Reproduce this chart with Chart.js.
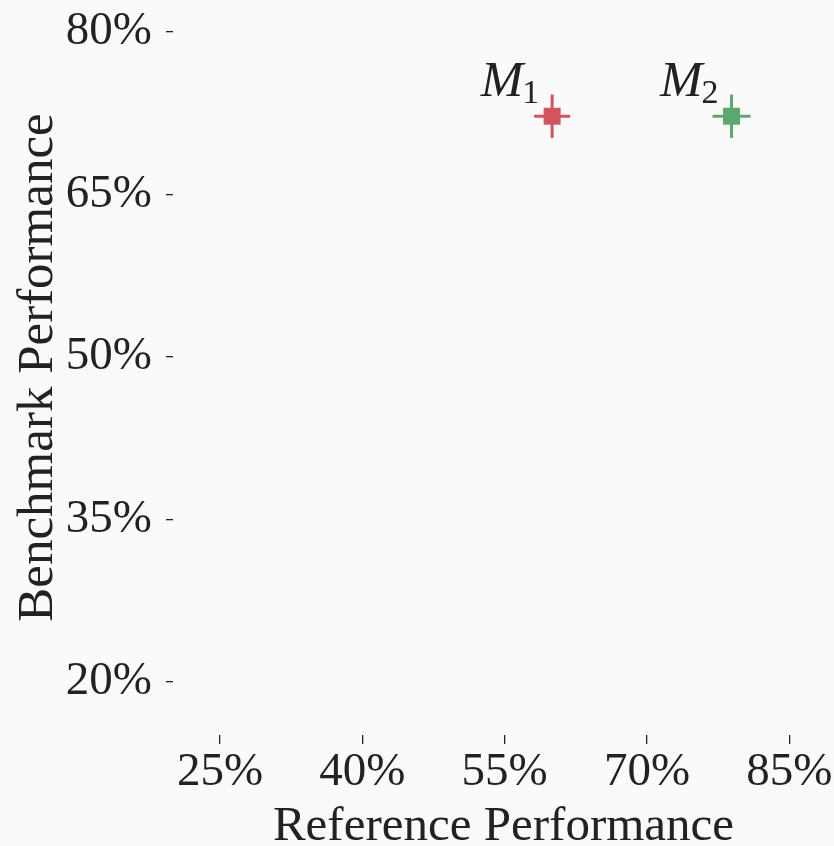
<!DOCTYPE html>
<html>
<head>
<meta charset="utf-8">
<script src="https://cdn.jsdelivr.net/npm/chart.js@4.4.1/dist/chart.umd.min.js"></script>
<style>
  html, body { margin: 0; padding: 0; background: #fafafa; }
  #wrap { width: 834px; height: 846px; position: relative; }
</style>
</head>
<body>
<div id="wrap"><canvas id="myChart"></canvas></div>
<script>
// data (percent)
const modelNames = ['M', 'M'];
const modelSubs = ['1', '2'];
const refPerf = [60.0, 78.9];
const benchPerf = [72.2, 72.2];
const refErr = [1.9, 2.0];
const benchErr = [2.0, 2.0];
const modelColors = ['#d2555d', '#5aa86b'];
const xTicks = [25, 40, 55, 70, 85];
const yTicks = [20, 35, 50, 65, 80];

const FONT = '"Liberation Serif", "DejaVu Serif", serif';
const TEXT = '#222';

// squares first so they are drawn on top of the error bars
const datasets = [{
    label: 'models',
    data: refPerf.map((x, i) => ({x: x, y: benchPerf[i]})),
    pointStyle: 'rect',
    pointRadius: 12,
    pointBackgroundColor: modelColors,
    pointBorderWidth: 0,
    showLine: false
}];

refPerf.forEach((x, i) => {
    const y = benchPerf[i];
    // horizontal error bar
    datasets.push({
        data: [{x: x - refErr[i], y: y}, {x: x + refErr[i], y: y}],
        showLine: true,
        borderColor: modelColors[i],
        borderWidth: 3,
        pointRadius: 0
    });
    // vertical error bar
    datasets.push({
        data: [{x: x, y: y - benchErr[i]}, {x: x, y: y + benchErr[i]}],
        showLine: true,
        borderColor: modelColors[i],
        borderWidth: 3,
        pointRadius: 0
    });
});

// M_1, M_2 labels next to the points
const labelPlugin = {
    id: 'modelLabels',
    afterDatasetsDraw(chart) {
        const ctx = chart.ctx;
        const meta = chart.getDatasetMeta(0);
        ctx.save();
        ctx.fillStyle = TEXT;
        ctx.textBaseline = 'alphabetic';
        meta.data.forEach((pt, i) => {
            ctx.font = 'italic 51px ' + FONT;
            ctx.textAlign = 'right';
            ctx.fillText(modelNames[i], pt.x - 29, pt.y - 20);
            ctx.font = '34px ' + FONT;
            ctx.textAlign = 'left';
            ctx.fillText(modelSubs[i], pt.x - 30, pt.y - 13);
        });
        ctx.restore();
    }
};

const ctx = document.getElementById('myChart').getContext('2d');
const myChart = new Chart(ctx, {
    type: 'scatter',
    data: {datasets: datasets},
    options: {
        responsive: true,
        maintainAspectRatio: false,
        animation: false,
        layout: {padding: 0, autoPadding: false},
        plugins: {
            legend: {display: false},
            tooltip: {enabled: false}
        },
        scales: {
            x: {
                min: 20.05,
                max: 89.7,
                afterBuildTicks: (scale) => { scale.ticks = xTicks.map(v => ({value: v})); },
                afterFit: (scale) => {
                    scale.height = 111;
                    scale.paddingLeft = 0;
                    scale.paddingRight = 0;
                },
                border: {display: false},
                grid: {drawOnChartArea: false, tickLength: 9, tickColor: '#222', lineWidth: 1.3},
                ticks: {
                    padding: 0,
                    color: TEXT,
                    font: {family: FONT, size: 47},
                    callback: (v) => v + '%'
                },
                title: {
                    display: true,
                    text: 'Reference Performance',
                    color: TEXT,
                    font: {family: FONT, size: 49, lineHeight: 1},
                    padding: {top: 0, bottom: -6}
                }
            },
            y: {
                min: 15.08,
                max: 82.93,
                afterBuildTicks: (scale) => { scale.ticks = yTicks.map(v => ({value: v})); },
                afterFit: (scale) => {
                    scale.width = 173;
                    scale.paddingTop = 0;
                    scale.paddingBottom = 0;
                },
                border: {display: false},
                grid: {drawOnChartArea: false, tickLength: 7, tickColor: '#222', lineWidth: 1.3},
                ticks: {
                    padding: 14,
                    color: TEXT,
                    font: {family: FONT, size: 47},
                    callback: (v) => v + '%'
                },
                title: {
                    display: true,
                    text: 'Benchmark Performance',
                    color: TEXT,
                    font: {family: FONT, size: 51, lineHeight: 1},
                    padding: {top: 13, bottom: 0}
                }
            }
        }
    },
    plugins: [labelPlugin]
});
</script>
</body>
</html>
